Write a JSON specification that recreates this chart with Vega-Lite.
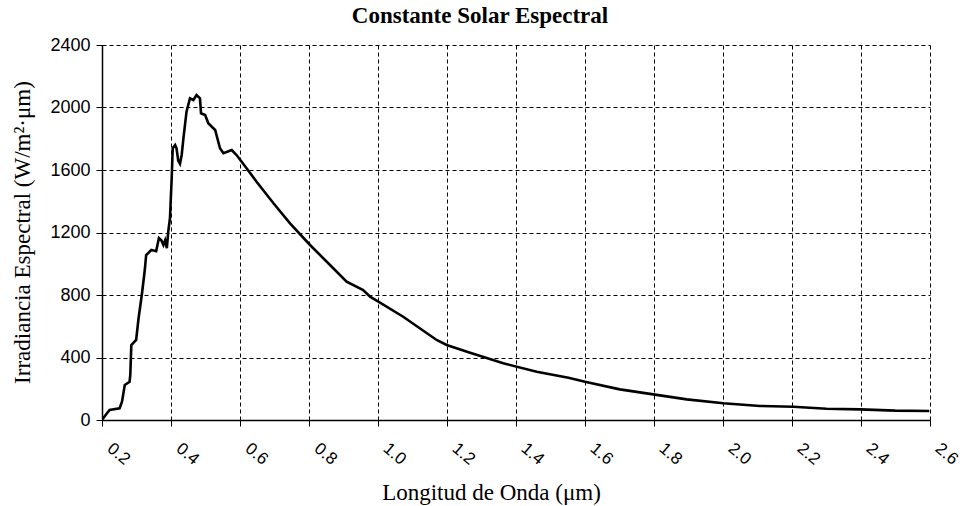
{
  "$schema": "https://vega.github.io/schema/vega-lite/v6.json",
  "width": 828,
  "height": 375,
  "autosize": "none",
  "padding": {"left": 102, "top": 45, "right": 32, "bottom": 86},
  "background": "white",
  "title": {
    "text": "Constante Solar Espectral",
    "font": "Liberation Serif",
    "fontSize": 23,
    "fontWeight": "bold",
    "color": "black",
    "anchor": "middle",
    "dx": -36,
    "offset": 8
  },
  "data": {
    "values": [
      {"w": 0.200, "e": 0},
      {"w": 0.210, "e": 30},
      {"w": 0.222, "e": 64},
      {"w": 0.251, "e": 75},
      {"w": 0.258, "e": 117},
      {"w": 0.266, "e": 224},
      {"w": 0.280, "e": 245},
      {"w": 0.282, "e": 288},
      {"w": 0.285, "e": 480},
      {"w": 0.299, "e": 512},
      {"w": 0.306, "e": 651},
      {"w": 0.316, "e": 811},
      {"w": 0.324, "e": 960},
      {"w": 0.328, "e": 1056},
      {"w": 0.343, "e": 1088},
      {"w": 0.357, "e": 1080},
      {"w": 0.365, "e": 1165},
      {"w": 0.372, "e": 1150},
      {"w": 0.378, "e": 1120},
      {"w": 0.383, "e": 1150},
      {"w": 0.388, "e": 1100},
      {"w": 0.392, "e": 1205},
      {"w": 0.397, "e": 1291},
      {"w": 0.402, "e": 1547},
      {"w": 0.405, "e": 1739},
      {"w": 0.412, "e": 1760},
      {"w": 0.416, "e": 1739},
      {"w": 0.421, "e": 1660},
      {"w": 0.426, "e": 1640},
      {"w": 0.431, "e": 1696},
      {"w": 0.436, "e": 1803},
      {"w": 0.445, "e": 1973},
      {"w": 0.455, "e": 2059},
      {"w": 0.465, "e": 2048},
      {"w": 0.474, "e": 2080},
      {"w": 0.484, "e": 2059},
      {"w": 0.487, "e": 1963},
      {"w": 0.499, "e": 1952},
      {"w": 0.508, "e": 1899},
      {"w": 0.528, "e": 1856},
      {"w": 0.542, "e": 1739},
      {"w": 0.552, "e": 1707},
      {"w": 0.576, "e": 1728},
      {"w": 0.590, "e": 1696},
      {"w": 0.619, "e": 1611},
      {"w": 0.648, "e": 1525},
      {"w": 0.697, "e": 1387},
      {"w": 0.745, "e": 1259},
      {"w": 0.803, "e": 1120},
      {"w": 0.861, "e": 992},
      {"w": 0.909, "e": 885},
      {"w": 0.957, "e": 832},
      {"w": 0.977, "e": 789},
      {"w": 1.001, "e": 757},
      {"w": 1.073, "e": 661},
      {"w": 1.170, "e": 512},
      {"w": 1.199, "e": 480},
      {"w": 1.267, "e": 431},
      {"w": 1.363, "e": 363},
      {"w": 1.460, "e": 309},
      {"w": 1.552, "e": 271},
      {"w": 1.600, "e": 245},
      {"w": 1.701, "e": 196},
      {"w": 1.798, "e": 164},
      {"w": 1.895, "e": 132},
      {"w": 2.001, "e": 107},
      {"w": 2.107, "e": 90},
      {"w": 2.204, "e": 85},
      {"w": 2.300, "e": 72},
      {"w": 2.397, "e": 68},
      {"w": 2.499, "e": 60},
      {"w": 2.598, "e": 58}
    ]
  },
  "mark": {"type": "line", "color": "black", "strokeWidth": 2.6, "clip": true},
  "encoding": {
    "x": {
      "field": "w",
      "type": "quantitative",
      "scale": {"domain": [0.2, 2.6], "nice": false, "zero": false},
      "axis": {
        "values": [0.2, 0.4, 0.6, 0.8, 1.0, 1.2, 1.4, 1.6, 1.8, 2.0, 2.2, 2.4, 2.6],
        "format": ".1f",
        "title": "Longitud de Onda (μm)",
        "titleX": 389,
        "titleY": 72,
        "titleBaseline": "middle",
        "titleAlign": "center",
        "labelAngle": 40,
        "labelAlign": "left",
        "labelBaseline": "middle",
        "labelPadding": 20,
        "labelOffset": 7,
        "labelFlush": false,
        "labelOverlap": false,
        "labelBound": false
      }
    },
    "y": {
      "field": "e",
      "type": "quantitative",
      "scale": {"domain": [0, 2400], "nice": false},
      "axis": {
        "values": [0, 400, 800, 1200, 1600, 2000, 2400],
        "format": "d",
        "title": "Irradiancia Espectral (W/m²·μm)",
        "titleX": -80,
        "titleY": 187,
        "titleBaseline": "middle",
        "titleAlign": "center",
        "labelPadding": 6,
        "labelFontSize": 18
      }
    }
  },
  "config": {
    "view": {"stroke": null},
    "axis": {
      "grid": true,
      "gridColor": "black",
      "gridDash": [4, 3],
      "gridWidth": 1,
      "gridOpacity": 1,
      "domainColor": "black",
      "domainWidth": 1.5,
      "tickColor": "black",
      "tickSize": 6,
      "tickWidth": 1,
      "labelFont": "Liberation Sans",
      "labelFontSize": 17,
      "labelColor": "black",
      "titleFont": "Liberation Serif",
      "titleFontSize": 23,
      "titleFontWeight": "normal",
      "titleColor": "black"
    }
  }
}
